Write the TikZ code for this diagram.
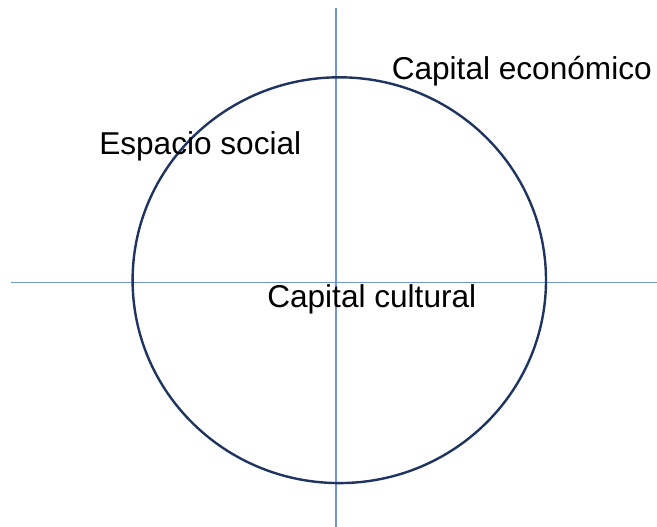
\documentclass[tikz,border=0pt]{standalone}
\usepackage{fontspec}
\setmainfont{Liberation Sans}
\usepackage{tikz}
\definecolor{axisblue}{RGB}{114,148,212}
\definecolor{navy}{RGB}{31,52,96}

\begin{document}
\begin{tikzpicture}[x=0.75pt,y=-0.75pt,
  axis/.style={axisblue, line width=1.1pt},
  label/.style={anchor=base west, inner sep=0pt, font=\fontsize{23.7}{28}\selectfont}]
\useasboundingbox (0,0) rectangle (657,527);
\coordinate (top) at (336,8);
\coordinate (bottom) at (336,527);
\coordinate (left) at (11,282.7);
\coordinate (right) at (657,282.7);
\coordinate (c) at (339.3,280.2);
\draw[axis] (top) -- (bottom);
\draw[axis] (left) -- (right);
\draw[navy, line width=1.8pt] (c) ellipse [x radius=206.7, y radius=202.9];
\node[label] (econ) at (391.5,79.3) {Capital económico};
\node[label] (social) at (99,155) {Espacio social};
\node[label] (cult) at (267,307.7) {Capital cultural};
\end{tikzpicture}
\end{document}
